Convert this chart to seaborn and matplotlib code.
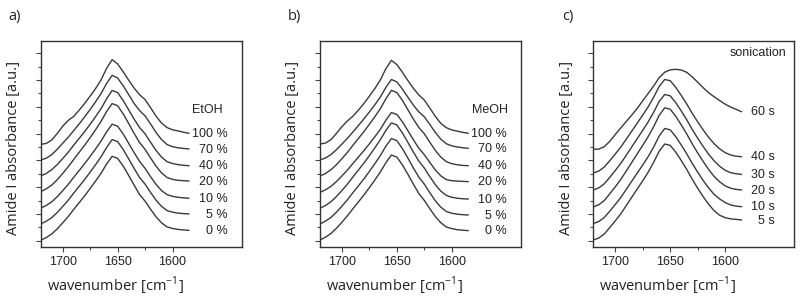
import matplotlib
matplotlib.use("Agg")
import matplotlib.pyplot as plt
import seaborn as sns
import pandas as pd
from matplotlib.ticker import MultipleLocator, FixedLocator

# wavenumber grid (cm-1) the curves were read at
wn = [1720, 1715, 1710, 1705, 1700, 1695, 1690, 1685, 1680, 1675, 1670, 1665, 1660, 1655,
      1650, 1645, 1640, 1635, 1630, 1625, 1620, 1615, 1610, 1605, 1600, 1595, 1590, 1585]

# a) EtOH series, stacked (a.u.)
etoh_labels = ["0 %", "5 %", "10 %", "20 %", "40 %", "70 %", "100 %"]
etoh_0 = [0.03, 0.23, 0.50, 0.88, 1.33, 1.80, 2.33, 2.84, 3.35, 3.90, 4.46, 5.05, 5.73, 6.30,
          6.15, 5.58, 4.88, 4.15, 3.45, 2.95, 2.35, 1.78, 1.33, 1.03, 0.91, 0.84, 0.80, 0.77]
etoh_5 = [1.25, 1.45, 1.72, 2.10, 2.55, 3.02, 3.55, 4.06, 4.57, 5.12, 5.68, 6.28, 6.96, 7.55,
          7.40, 6.82, 6.12, 5.40, 4.72, 4.22, 3.60, 3.02, 2.56, 2.25, 2.13, 2.06, 2.02, 2.00]
etoh_10 = [2.43, 2.63, 2.90, 3.28, 3.73, 4.20, 4.73, 5.24, 5.75, 6.30, 6.86, 7.45, 8.13, 8.70,
           8.55, 7.98, 7.28, 6.58, 5.92, 5.40, 4.78, 4.20, 3.74, 3.44, 3.31, 3.24, 3.20, 3.17]
etoh_20 = [3.66, 3.87, 4.15, 4.55, 5.02, 5.52, 6.06, 6.60, 7.13, 7.70, 8.29, 8.92, 9.65, 10.24,
           10.08, 9.48, 8.76, 8.02, 7.32, 6.82, 6.18, 5.56, 5.06, 4.72, 4.58, 4.51, 4.48, 4.46]
etoh_40 = [4.83, 5.02, 5.30, 5.68, 6.13, 6.60, 7.13, 7.64, 8.15, 8.70, 9.27, 9.87, 10.60, 11.22,
           11.06, 10.48, 9.78, 9.08, 8.45, 7.98, 7.35, 6.74, 6.24, 5.90, 5.76, 5.68, 5.63, 5.60]
etoh_70 = [6.03, 6.16, 6.42, 6.82, 7.28, 7.72, 8.22, 8.72, 9.25, 9.80, 10.38, 11.00, 11.75, 12.35,
           12.15, 11.58, 10.92, 10.25, 9.72, 9.32, 8.72, 8.08, 7.55, 7.18, 7.02, 6.94, 6.89, 6.85]
etoh_100 = [7.20, 7.26, 7.52, 8.00, 8.55, 8.98, 9.28, 9.75, 10.25, 10.80, 11.37, 12.02, 12.88, 13.52,
            13.20, 12.62, 12.00, 11.40, 10.90, 10.54, 9.93, 9.30, 8.78, 8.45, 8.28, 8.20, 8.10, 8.02]

# b) MeOH series
meoh_labels = ["0 %", "5 %", "10 %", "20 %", "40 %", "70 %", "100 %"]
meoh_0 = [0.05, 0.26, 0.54, 0.93, 1.38, 1.86, 2.39, 2.90, 3.42, 3.97, 4.54, 5.14, 5.83, 6.40,
          6.24, 5.66, 4.96, 4.22, 3.52, 3.00, 2.38, 1.80, 1.34, 1.02, 0.90, 0.82, 0.78, 0.75]
meoh_5 = [1.25, 1.46, 1.74, 2.13, 2.58, 3.06, 3.59, 4.10, 4.62, 5.18, 5.76, 6.37, 7.06, 7.63,
          7.47, 6.88, 6.17, 5.43, 4.74, 4.22, 3.58, 2.98, 2.50, 2.18, 2.05, 1.98, 1.94, 1.92]
meoh_10 = [2.42, 2.63, 2.91, 3.30, 3.75, 4.23, 4.76, 5.28, 5.80, 6.36, 6.94, 7.55, 8.24, 8.80,
           8.64, 8.05, 7.34, 6.62, 5.94, 5.42, 4.78, 4.18, 3.70, 3.38, 3.24, 3.17, 3.13, 3.11]
meoh_20 = [3.61, 3.80, 4.06, 4.42, 4.84, 5.28, 5.77, 6.25, 6.73, 7.24, 7.77, 8.33, 9.00, 9.57,
           9.42, 8.88, 8.22, 7.54, 6.90, 6.42, 5.84, 5.28, 4.84, 4.56, 4.48, 4.45, 4.43, 4.41]
meoh_40 = [4.83, 5.02, 5.30, 5.68, 6.13, 6.60, 7.13, 7.64, 8.15, 8.70, 9.27, 9.87, 10.60, 11.23,
           11.06, 10.48, 9.78, 9.08, 8.45, 7.98, 7.35, 6.74, 6.24, 5.90, 5.75, 5.67, 5.62, 5.60]
meoh_70 = [6.03, 6.18, 6.43, 6.80, 7.22, 7.65, 8.12, 8.60, 9.10, 9.62, 10.16, 10.74, 11.45, 12.04,
           11.86, 11.32, 10.72, 10.12, 9.62, 9.25, 8.68, 8.08, 7.58, 7.24, 7.08, 7.00, 6.94, 6.90]
meoh_100 = [7.22, 7.29, 7.55, 8.02, 8.52, 8.95, 9.30, 9.76, 10.25, 10.80, 11.37, 12.02, 12.85, 13.47,
            13.15, 12.58, 11.96, 11.38, 10.88, 10.50, 9.90, 9.28, 8.76, 8.44, 8.27, 8.18, 8.09, 8.02]

# c) sonication time series
son_labels = ["5 s", "10 s", "20 s", "30 s", "40 s", "60 s"]
son_5 = [0.05, 0.20, 0.50, 0.98, 1.48, 2.00, 2.62, 3.24, 3.86, 4.47, 5.12, 5.86, 6.68, 7.22,
         7.12, 6.62, 6.00, 5.33, 4.60, 3.92, 3.29, 2.72, 2.24, 1.90, 1.72, 1.63, 1.59, 1.55]
son_10 = [1.28, 1.43, 1.73, 2.20, 2.70, 3.22, 3.83, 4.44, 5.05, 5.65, 6.28, 7.00, 7.82, 8.38,
          8.28, 7.78, 7.16, 6.50, 5.78, 5.12, 4.50, 3.94, 3.46, 3.12, 2.85, 2.67, 2.58, 2.54]
son_20 = [2.52, 2.68, 3.00, 3.50, 4.02, 4.57, 5.20, 5.84, 6.48, 7.12, 7.78, 8.52, 9.36, 9.92,
          9.82, 9.30, 8.66, 7.98, 7.24, 6.56, 5.92, 5.32, 4.80, 4.40, 4.10, 3.92, 3.83, 3.79]
son_30 = [3.79, 3.94, 4.25, 4.73, 5.24, 5.77, 6.38, 7.00, 7.62, 8.24, 8.88, 9.60, 10.40, 10.92,
          10.82, 10.32, 9.70, 9.04, 8.32, 7.66, 7.04, 6.46, 5.96, 5.56, 5.26, 5.08, 5.00, 4.96]
son_40 = [5.05, 5.20, 5.50, 5.97, 6.47, 6.99, 7.58, 8.18, 8.78, 9.38, 10.00, 10.72, 11.52, 12.04,
          11.95, 11.46, 10.86, 10.22, 9.52, 8.88, 8.28, 7.72, 7.24, 6.86, 6.58, 6.40, 6.31, 6.27]
son_60 = [6.83, 6.84, 7.02, 7.42, 7.93, 8.42, 8.90, 9.38, 9.88, 10.45, 11.00, 11.56, 12.18, 12.58,
          12.76, 12.80, 12.75, 12.58, 12.24, 11.84, 11.43, 11.05, 10.75, 10.47, 10.20, 9.98, 9.81, 9.63]

panels = [
    ("a)", "EtOH", etoh_labels, [etoh_0, etoh_5, etoh_10, etoh_20, etoh_40, etoh_70, etoh_100]),
    ("b)", "MeOH", meoh_labels, [meoh_0, meoh_5, meoh_10, meoh_20, meoh_40, meoh_70, meoh_100]),
    ("c)", "sonication", son_labels, [son_5, son_10, son_20, son_30, son_40, son_60]),
]

sns.set_style("ticks")
plt.rcParams["font.family"] = ["Liberation Sans", "DejaVu Sans"]
plt.rcParams["mathtext.fontset"] = "custom"
plt.rcParams["mathtext.rm"] = "Open Sans"

line_col = "#3a3a3a"
fig = plt.figure(figsize=(8, 3.03), dpi=100)
lefts = [0.0509, 0.400, 0.7416]

for i, (tag, title, labels, series) in enumerate(panels):
    ax = fig.add_axes([lefts[i], 0.1858, 0.2513, 0.680])
    df = pd.concat([pd.DataFrame({"wavenumber": wn, "absorbance": s, "sample": lab})
                    for lab, s in zip(labels, series)])
    sns.lineplot(data=df, x="wavenumber", y="absorbance", units="sample", estimator=None,
                 sort=False, color=line_col, lw=1.0, ax=ax, legend=False)
    ax.set_xlim(1720, 1537)
    ax.set_ylim(-0.45, 14.94)
    ax.xaxis.set_major_locator(FixedLocator([1700, 1650, 1600]))
    ax.xaxis.set_minor_locator(FixedLocator([1675, 1625]))
    ax.yaxis.set_major_locator(MultipleLocator(2))
    ax.yaxis.set_minor_locator(MultipleLocator(1))
    ax.set_yticklabels([])
    ax.tick_params(axis="both", which="major", length=3.5, width=0.8, color="#444444",
                   labelsize=9, labelcolor="#222222", pad=3)
    ax.tick_params(axis="both", which="minor", length=2.5, width=0.8, color="#444444")
    for sp in ax.spines.values():
        sp.set_color("#333333")
        sp.set_linewidth(1.0)
    ax.set_xlabel(r"wavenumber [cm$^{\mathregular{-1}}$]", fontsize=10.5,
                  family="Open Sans", color="#222222")
    ax.xaxis.set_label_coords(0.37, -0.135)
    ax.set_ylabel("Amide I absorbance [a.u.]", fontsize=10.5, family="Open Sans",
                  color="#222222")
    ax.yaxis.set_label_coords(-0.098, 0.48)

    # curve labels at the right end of each trace
    lab_x = 1555 if i == 2 else 1550
    for lab, s in zip(labels, series):
        ax.text(lab_x, s[-1] - 0.05, lab, ha="right", va="center", fontsize=9, color="#222222")
    if i == 2:
        ax.text(1544.5, 14.0, title, ha="right", va="center", fontsize=9, color="#222222")
    else:
        ax.text(1582, 9.76, title, ha="left", va="center", fontsize=9, color="#222222")

    fig.text(lefts[i] - 0.032, 0.947, tag, ha="center", va="center", fontsize=10.5,
             family="Open Sans", color="#222222")

fig.savefig("out.png", dpi=100, facecolor="white")
